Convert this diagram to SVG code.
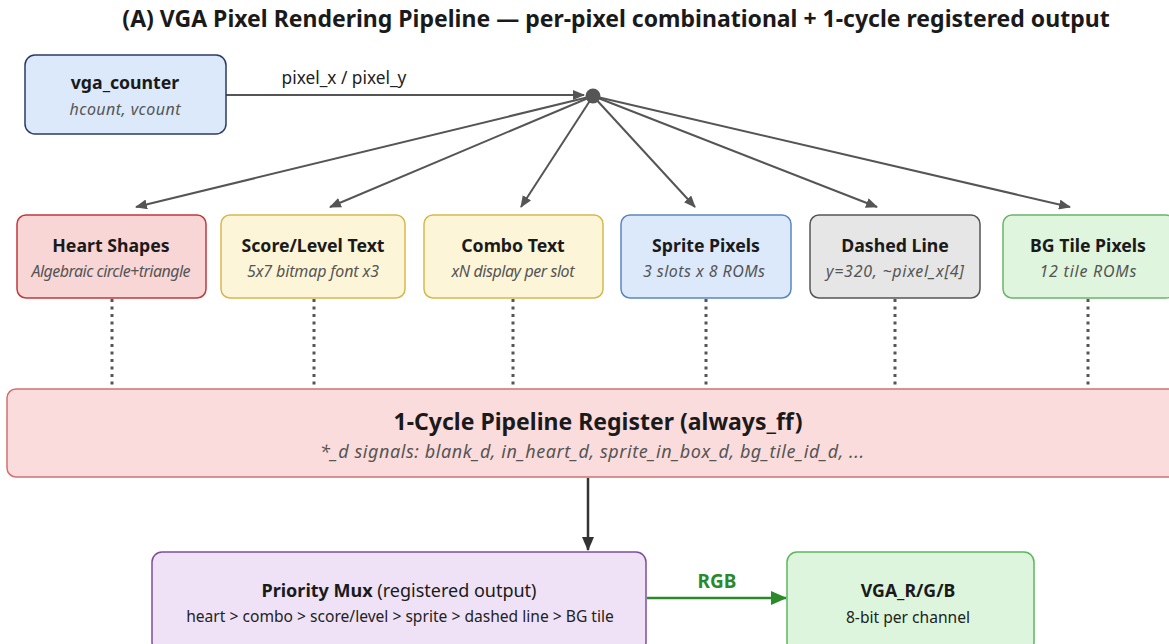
<svg xmlns="http://www.w3.org/2000/svg" width="1169" height="644" viewBox="0 0 1169 644">
  <defs>
    <marker id="arrGray" viewBox="0 0 12 10" refX="11" refY="5" markerWidth="12" markerHeight="10" markerUnits="userSpaceOnUse" orient="auto">
      <path d="M0,0 L12,5 L0,10 Z" fill="#555"/>
    </marker>
    <marker id="arrDark" viewBox="0 0 14 12" refX="13" refY="6" markerWidth="14" markerHeight="12" markerUnits="userSpaceOnUse" orient="auto">
      <path d="M0,0 L14,6 L0,12 Z" fill="#333"/>
    </marker>
    <marker id="arrGreen" viewBox="0 0 16 14" refX="15" refY="7" markerWidth="16" markerHeight="14" markerUnits="userSpaceOnUse" orient="auto">
      <path d="M0,0 L16,7 L0,14 Z" fill="#2a8a2a"/>
    </marker>
  </defs>
  <style>
    text { font-family: "Noto Sans", "Open Sans", "Liberation Sans", sans-serif; fill: #1a1a1a; }
    .title { font-size: 23px; font-weight: bold; }
    .h { font-size: 17.7px; font-weight: bold; text-anchor: middle; }
    .sub { font-size: 16px; font-style: italic; fill: #555; text-anchor: middle; }
    .reg { font-size: 15.6px; fill: #222; text-anchor: middle; }
    .lbl { font-size: 17.3px; fill: #222; }
    .box { stroke-width: 1.5; }
    .fan { stroke: #555; stroke-width: 2; fill: none; marker-end: url(#arrGray); }
    .dot { stroke: #555; stroke-width: 3; stroke-dasharray: 3 4.5; fill: none; }
  </style>
  <rect width="1169" height="644" fill="#ffffff"/>

  <text class="title" x="616" y="27" text-anchor="middle">(A) VGA Pixel Rendering Pipeline — per-pixel combinational + 1-cycle registered output</text>

  <!-- connectors -->
  <g id="connectors">
    <line class="fan" x1="226" y1="95" x2="584" y2="95"/>
    <text class="lbl" x="344" y="84" text-anchor="middle">pixel_x / pixel_y</text>
    <line class="fan" x1="593" y1="96" x2="136" y2="207"/>
    <line class="fan" x1="593" y1="96" x2="330" y2="207"/>
    <line class="fan" x1="593" y1="96" x2="521" y2="207"/>
    <line class="fan" x1="593" y1="96" x2="695" y2="207"/>
    <line class="fan" x1="593" y1="96" x2="877" y2="207"/>
    <line class="fan" x1="593" y1="96" x2="1070" y2="207"/>
    <circle cx="593" cy="96" r="7.5" fill="#555"/>

    <line class="dot" x1="112" y1="299" x2="112" y2="388"/>
    <line class="dot" x1="314" y1="299" x2="314" y2="388"/>
    <line class="dot" x1="513" y1="299" x2="513" y2="388"/>
    <line class="dot" x1="706" y1="299" x2="706" y2="388"/>
    <line class="dot" x1="895" y1="299" x2="895" y2="388"/>
    <line class="dot" x1="1088" y1="299" x2="1088" y2="388"/>

    <line x1="588" y1="478" x2="588" y2="550" stroke="#333" stroke-width="2.5" marker-end="url(#arrDark)"/>

    <line x1="647" y1="598" x2="786" y2="598" stroke="#2a8a2a" stroke-width="2.5" marker-end="url(#arrGreen)"/>
    <text x="717" y="588" text-anchor="middle" font-size="19" font-weight="bold" style="fill:#2a8a2a">RGB</text>
  </g>

  <g id="vga_counter">
    <rect class="box" x="25" y="55" width="201" height="79" rx="10" fill="#dbe9fb" stroke="#2c3a66"/>
    <text class="h" x="125" y="89" font-size="18">vga_counter</text>
    <text class="sub" x="125" y="115" font-size="16.5" textLength="111" lengthAdjust="spacing">hcount, vcount</text>
  </g>

  <g id="heart_shapes">
    <rect class="box" x="17" y="215" width="189" height="83" rx="9" fill="#f9d6d6" stroke="#c0393b"/>
    <text class="h" x="111" y="252">Heart Shapes</text>
    <text class="sub" x="111" y="277" textLength="159" lengthAdjust="spacing">Algebraic circle+triangle</text>
  </g>

  <g id="score_level_text">
    <rect class="box" x="221" y="215" width="184" height="83" rx="9" fill="#fdf5d8" stroke="#d4b94e"/>
    <text class="h" x="313" y="252">Score/Level Text</text>
    <text class="sub" x="313" y="277" textLength="132" lengthAdjust="spacing">5x7 bitmap font x3</text>
  </g>

  <g id="combo_text">
    <rect class="box" x="424" y="215" width="179" height="83" rx="9" fill="#fdf5d8" stroke="#d4b94e"/>
    <text class="h" x="513" y="252">Combo Text</text>
    <text class="sub" x="513" y="277" textLength="123" lengthAdjust="spacing">xN display per slot</text>
  </g>

  <g id="sprite_pixels">
    <rect class="box" x="621" y="215" width="170" height="83" rx="9" fill="#dbe9fb" stroke="#5b86c0"/>
    <text class="h" x="706" y="252">Sprite Pixels</text>
    <text class="sub" x="704" y="277" textLength="122" lengthAdjust="spacing">3 slots x 8 ROMs</text>
  </g>

  <g id="dashed_line">
    <rect class="box" x="810" y="215" width="170" height="83" rx="9" fill="#e6e6e6" stroke="#555"/>
    <text class="h" x="895" y="252">Dashed Line</text>
    <text class="sub" x="895" y="277" textLength="138" lengthAdjust="spacing">y=320, ~pixel_x[4]</text>
  </g>

  <g id="bg_tile_pixels">
    <rect class="box" x="1003" y="215" width="172" height="83" rx="9" fill="#dff5dd" stroke="#6ab56a"/>
    <text class="h" x="1088" y="252" font-size="18.2">BG Tile Pixels</text>
    <text class="sub" x="1088" y="277" textLength="97" lengthAdjust="spacing">12 tile ROMs</text>
  </g>

  <g id="pipeline_register">
    <rect class="box" x="7" y="389" width="1172" height="88" rx="9" fill="#fbdcdc" stroke="#d07070"/>
    <text x="598" y="430" text-anchor="middle" font-size="23" font-weight="bold">1-Cycle Pipeline Register (always_ff)</text>
    <text x="592" y="458" text-anchor="middle" font-size="18" font-style="italic" style="fill:#555" textLength="544" lengthAdjust="spacing">*_d signals: blank_d, in_heart_d, sprite_in_box_d, bg_tile_id_d, ...</text>
  </g>

  <g id="priority_mux">
    <rect class="box" x="152" y="552" width="494" height="100" rx="10" fill="#efe2f7" stroke="#7d4f9a"/>
    <text x="399" y="597" text-anchor="middle" font-size="18"><tspan font-weight="bold">Priority Mux</tspan> (registered output)</text>
    <text class="reg" x="400" y="622">heart &gt; combo &gt; score/level &gt; sprite &gt; dashed line &gt; BG tile</text>
  </g>

  <g id="vga_rgb">
    <rect class="box" x="787" y="552" width="247" height="100" rx="10" fill="#dcf5dc" stroke="#5cb85c"/>
    <text class="h" x="908" y="597" font-size="19.5">VGA_R/G/B</text>
    <text class="reg" x="908" y="623">8-bit per channel</text>
  </g>
</svg>
